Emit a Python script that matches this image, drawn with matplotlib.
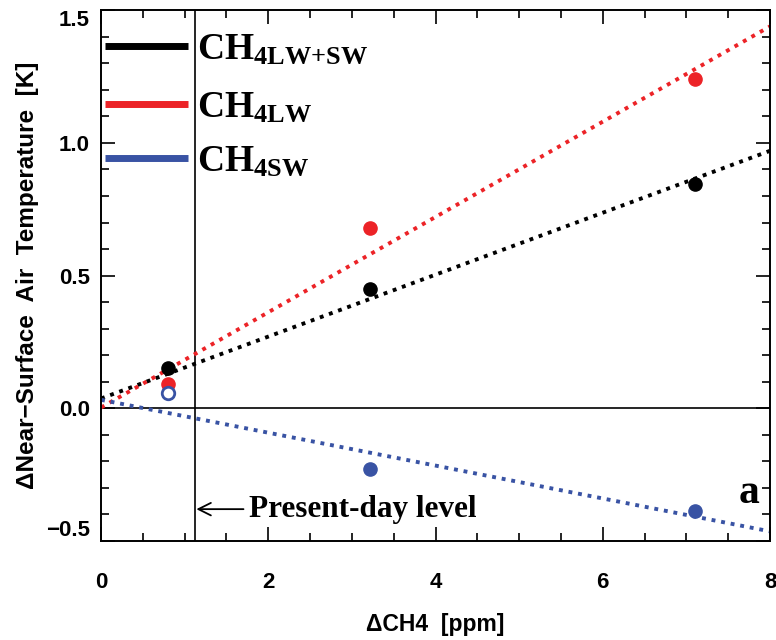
import numpy as np
import matplotlib
matplotlib.use('Agg')
import matplotlib.pyplot as plt

plt.rcParams['mathtext.fontset'] = 'custom'
plt.rcParams['mathtext.rm'] = 'Liberation Serif'
plt.rcParams['mathtext.bf'] = 'Liberation Serif:bold'
plt.rcParams['font.family'] = ['Liberation Sans', 'DejaVu Sans']

# CH4 perturbation experiments (ppm) and temperature response (K)
dch4 = [0.8, 3.22, 7.1]
t_lwsw = [0.15, 0.448, 0.847]
t_lw = [0.09, 0.678, 1.24]
t_sw = [0.057, -0.23, -0.388]
present_day = 1.12

series = [
    (r'$\mathbf{CH_{4LW{+}SW}}$', t_lwsw, 'black'),
    (r'$\mathbf{CH_{4LW}}$', t_lw, '#ec2327'),
    (r'$\mathbf{CH_{4SW}}$', t_sw, '#3953a4'),
]

fig = plt.figure(figsize=(7.76, 6.40), dpi=100)
ax = fig.add_axes([0.1302, 0.1547, 0.8621, 0.8293])

xfit = np.array([0.0, 8.0])
for i, (lab, ys, col) in enumerate(series):
    # linear fit through the origin point plus the three runs
    xx = np.r_[0.0, dch4]
    yy = np.r_[0.0, ys]
    k, b = np.polyfit(xx, yy, 1)
    ax.plot(xfit, k * xfit + b, color=col, lw=2.8, ls=(0, (1, 1.5)),
            dash_capstyle='butt', zorder=2)
    if i == 2:
        # first SW run drawn as open circle
        ax.plot(dch4[0], ys[0], 'o', mfc='white', mec=col, mew=2, ms=9, zorder=3)
        ax.plot(dch4[1:], ys[1:], 'o', color=col, ms=9.5, zorder=3)
    else:
        ax.plot(dch4, ys, 'o', color=col, ms=9.5, zorder=3)

ax.axhline(0, color='black', lw=1.2, zorder=1)
ax.axvline(present_day, color='black', lw=1.2, zorder=1)

ax.set_xlim(0, 8)
ax.set_ylim(-0.5, 1.5)
ax.set_xticks([0, 2, 4, 6, 8])
ax.set_xticks(np.arange(0, 8.01, 0.5), minor=True)
ax.set_yticks([-0.5, 0.0, 0.5, 1.0, 1.5])
ax.set_yticks(np.arange(-0.5, 1.501, 0.1), minor=True)
ax.set_yticklabels(['\u22120.5', '0.0', '0.5', '1.0', '1.5'])
ax.tick_params(which='both', direction='in', top=True, right=True, width=1.2)
ax.tick_params(which='major', length=10)
ax.tick_params(which='minor', length=6)
ax.tick_params(axis='x', pad=22, labelsize=16)
ax.tick_params(axis='y', pad=8, labelsize=16)
for lbl in ax.get_xticklabels() + ax.get_yticklabels():
    lbl.set_fontweight('bold')
ylbls = ax.get_yticklabels()
ylbls[0].set_va('bottom')
ylbls[-1].set_va('top')
for s in ax.spines.values():
    s.set_linewidth(1.4)

ax.set_xlabel('\u0394CH4  [ppm]', fontsize=16.5, fontweight='bold', labelpad=15)
ax.set_ylabel('\u0394Near\u2212Surface  Air  Temperature  [K]', fontsize=17.5,
              fontweight='bold', labelpad=5)

# legend drawn by hand to match the original placement
leg_y = [0.932, 0.823, 0.721]
for (lab, ys, col), yl in zip(series, leg_y):
    ax.plot([0.006, 0.130], [yl, yl], color=col, lw=5, transform=ax.transAxes,
            solid_capstyle='butt')
    ax.text(0.1435, yl - 0.024, lab, transform=ax.transAxes, fontsize=27,
            va='baseline', ha='left')

ax.annotate('Present-day level', xy=(present_day + 0.02, -0.38),
            xytext=(1.77, -0.38), fontsize=22.5, fontweight='bold',
            family='Liberation Serif', va='center', ha='left',
            arrowprops=dict(arrowstyle='->', lw=1.3, color='black',
                            shrinkA=2, shrinkB=0))
ax.text(7.75, -0.32, 'a', fontsize=30, fontweight='bold',
        family='Liberation Serif', ha='center', va='center')

fig.savefig('out.png', dpi=100)
